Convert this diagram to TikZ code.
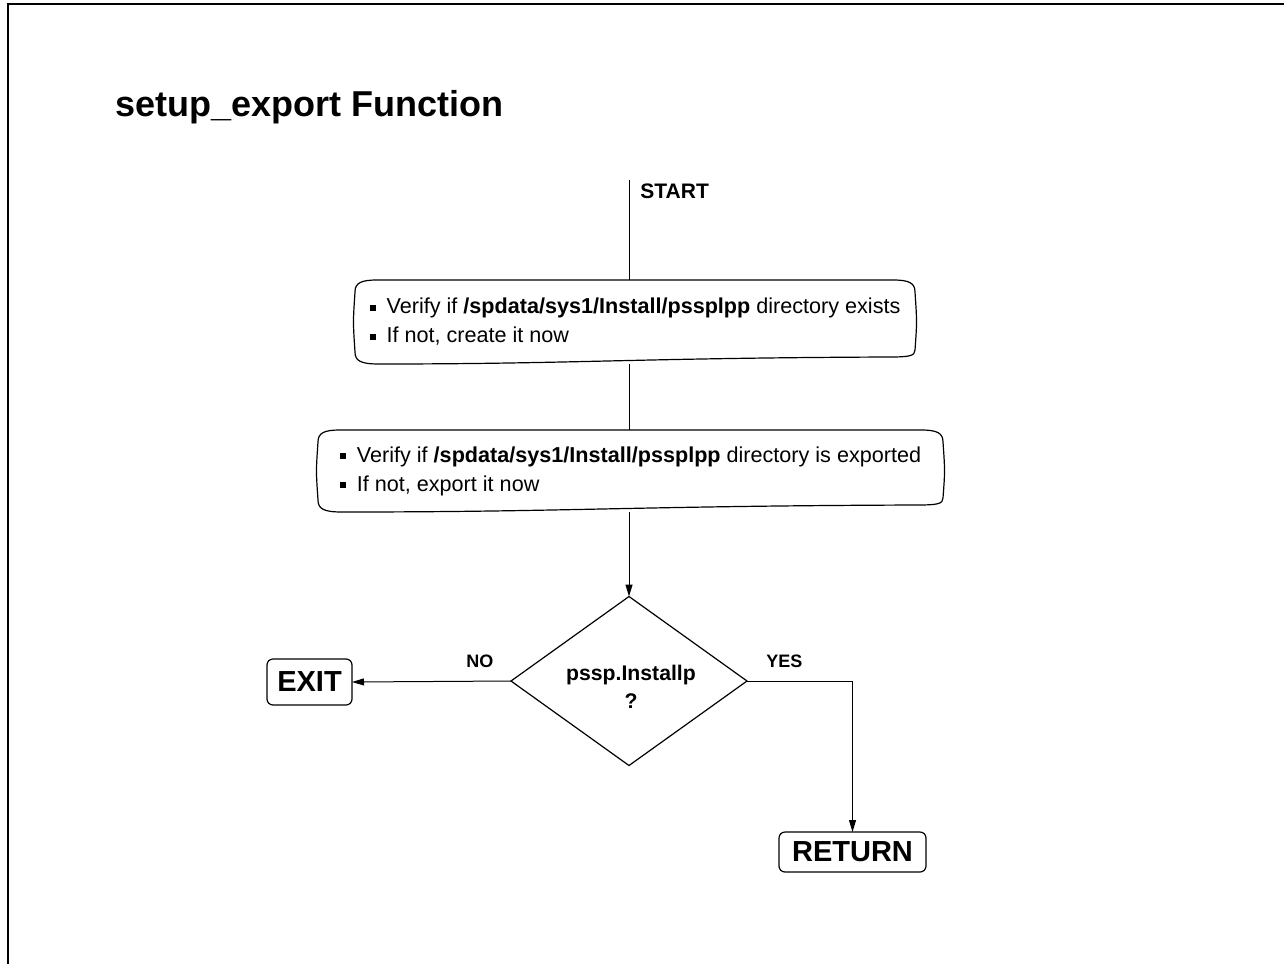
\documentclass[tikz,border=0pt]{standalone}
\usepackage{fontspec}
\setmainfont{Liberation Sans}
\usetikzlibrary{shapes.geometric,arrows.meta,calc}

\newcommand{\sqb}{\rule[1.3pt]{3pt}{3pt}\hspace{5.5pt}}
\newcommand{\scrollbox}[1]{%
  \draw[line width=0.6pt] ($(#1.north west)+(0,12)$)
    .. controls ($(#1.north west)+(0,3)$) and ($(#1.north west)+(6,0)$) .. ($(#1.north west)+(22,0)$)
    -- ($(#1.north east)+(-22,0)$)
    .. controls ($(#1.north east)+(-6,0)$) and ($(#1.north east)+(0,3)$) .. ($(#1.north east)+(0,12)$)
    .. controls ($(#1.east)+(2,0)$) .. ($(#1.south east)+(0,-14)$)
    .. controls ($(#1.south east)+(0,-8)$) and ($(#1.south east)+(-6,-7)$) .. ($(#1.south east)+(-26,-7)$)
    .. controls ($(#1.south)+(0,-6)$) and ($(#1.south)+(-60,0)$) .. ($(#1.south west)+(24,0)$)
    .. controls ($(#1.south west)+(6,0)$) and ($(#1.south west)+(0,-3)$) .. ($(#1.south west)+(0,-12)$)
    .. controls ($(#1.west)+(-2,0)$) .. cycle;}

\tikzset{
  proc/.style={outer sep=0pt, inner sep=0pt, minimum height=42pt, align=left,
    font=\fontsize{10.8}{14.5}\selectfont},
  decision/.style={diamond, draw, line width=0.6pt, inner sep=0pt, outer sep=0pt,
    minimum width=118pt, minimum height=84.5pt},
  term/.style={draw, line width=0.6pt, rounded corners=3pt, outer sep=0pt,
    inner sep=0pt, font=\fontsize{14.5}{17}\selectfont\bfseries},
  lbl/.style={anchor=base west, inner sep=0pt, font=\fontsize{9}{11}\selectfont\bfseries},
  flow/.style={line width=0.5pt},
  arr/.style={flow, -{Triangle[length=6pt,width=3.5pt]}}
}

\begin{document}
\begin{tikzpicture}[x=0.5pt,y=-0.5pt]
        \useasboundingbox (0,0) rectangle (1284,964);
        \draw[line width=1.2pt] (8,964) -- (8,4) -- (1284,4);

        \node[anchor=base west, inner sep=0pt, font=\fontsize{18}{22}\selectfont\bfseries]
            (title) at (115,116) {setup\_export Function};

        \coordinate (start) at (629,180);
        \node[lbl, font=\fontsize{10.5}{12}\selectfont\bfseries] (startlbl) at (640,198) {START};

        \node[proc, minimum width=280pt] (verify) at (635,322)
            {\sqb Verify if \textbf{/spdata/sys1/Install/pssplpp} directory exists\\
             \sqb If not, create it now};
        \scrollbox{verify}

        \node[proc, minimum width=312.5pt, minimum height=41pt] (export) at (630.5,471)
            {\sqb Verify if \textbf{/spdata/sys1/Install/pssplpp} directory is exported\\
             \sqb If not, export it now};
        \scrollbox{export}

        \node[decision] (check) at (629,681) {};
        \node[align=center, inner sep=0pt, font=\fontsize{10.6}{14}\selectfont\bfseries]
            (checktxt) at (631,687) {pssp.Installp\\?};

        \node[term, minimum width=42.5pt, minimum height=23pt] (exit) at (309.5,682) {EXIT};
        \node[term, minimum width=73.5pt, minimum height=20pt] (ret) at (852.5,852) {RETURN};

        \node[lbl] (no) at (466,667) {NO};
        \node[lbl] (yes) at (766,667) {YES};

        \draw[flow] (start) -- (verify.north -| start);
        \draw[flow] (verify.south -| start) -- (export.north -| start);
        \draw[arr] (export.south -| check.north) -- (check.north);
        \draw[arr] (check.west) -- (exit.east);
        \draw[arr] (check.east) -| (ret.north);
\end{tikzpicture}
\end{document}
